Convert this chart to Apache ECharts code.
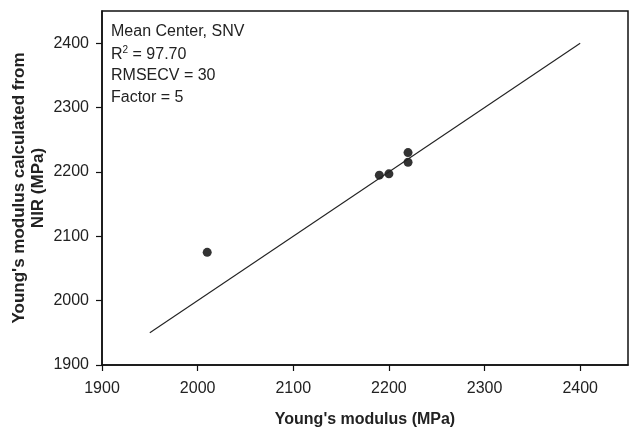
<!DOCTYPE html>
<html>
<head>
<meta charset="utf-8">
<script src="https://cdn.jsdelivr.net/npm/echarts@6/dist/echarts.min.js"></script>
<style>
  html, body { margin: 0; padding: 0; background: #fff; }
  #chart { width: 630px; height: 431px; }
</style>
</head>
<body>
<div id="chart"></div>
<script>
// measured vs predicted (MPa)
const measured = [2010, 2190, 2200, 2220, 2220];
const predicted = [2075, 2195, 2197, 2230, 2215];
// 1:1 reference line end points
const refLine = [1950, 2400];
const infoLines = ['Mean Center, SNV', 'R{sup|2} = 97.70', 'RMSECV = 30', 'Factor = 5'];

const font = 'Liberation Sans, Arial, sans-serif';

const chart = echarts.init(document.getElementById('chart'));

const axisCommon = {
  type: 'value',
  min: 1900,
  max: 2450,
  interval: 100,
  splitLine: { show: false },
  axisLine: { show: true, lineStyle: { color: '#111', width: 1.5 } },
  axisTick: { show: true, inside: false, length: 6, lineStyle: { color: '#111', width: 1.2 } },
  nameMoveOverlap: false,
  nameTextStyle: { fontFamily: font, fontSize: 16, fontWeight: 'bold', color: '#222' },
};

chart.setOption({
  animation: false,
  grid: {
    left: 102, right: 2, top: 11, bottom: 66,
    outerBoundsMode: 'none',
    containLabel: false,
    show: true, borderColor: '#111', borderWidth: 1.5, backgroundColor: 'transparent'
  },
  xAxis: {
    ...axisCommon,
    name: "Young's modulus (MPa)",
    nameLocation: 'middle',
    nameGap: 47,
    axisLabel: { fontFamily: font, fontSize: 16, color: '#222', margin: 16, showMaxLabel: false, formatter: v => String(v) },
  },
  yAxis: {
    ...axisCommon,
    name: "Young's modulus calculated from\nNIR (MPa)",
    nameLocation: 'middle',
    nameGap: 54,
    nameTextStyle: { ...axisCommon.nameTextStyle, fontSize: 17, lineHeight: 19 },
    axisLabel: { fontFamily: font, fontSize: 16, color: '#222', margin: 13, showMaxLabel: false, formatter: v => String(v) },
  },
  graphic: infoLines.map((t, i) => ({
    type: 'text',
    left: 111,
    top: 24 + i * 21.7,
    style: {
      text: t,
      fontFamily: font,
      fontSize: 16,
      fill: '#222',
      rich: {
        sup: { fontFamily: font, fontSize: 10, fill: '#222', verticalAlign: 'top', padding: [0, 0, 7, 0] }
      }
    }
  })),
  series: [
    {
      type: 'line',
      data: refLine.map(v => [v, v]),
      symbol: 'none',
      lineStyle: { color: '#222', width: 1.1 },
      silent: true,
    },
    {
      type: 'scatter',
      data: measured.map((v, i) => [v, predicted[i]]),
      symbol: 'circle',
      symbolSize: 9,
      itemStyle: { color: '#000' },
    }
  ]
});
</script>
</body>
</html>
